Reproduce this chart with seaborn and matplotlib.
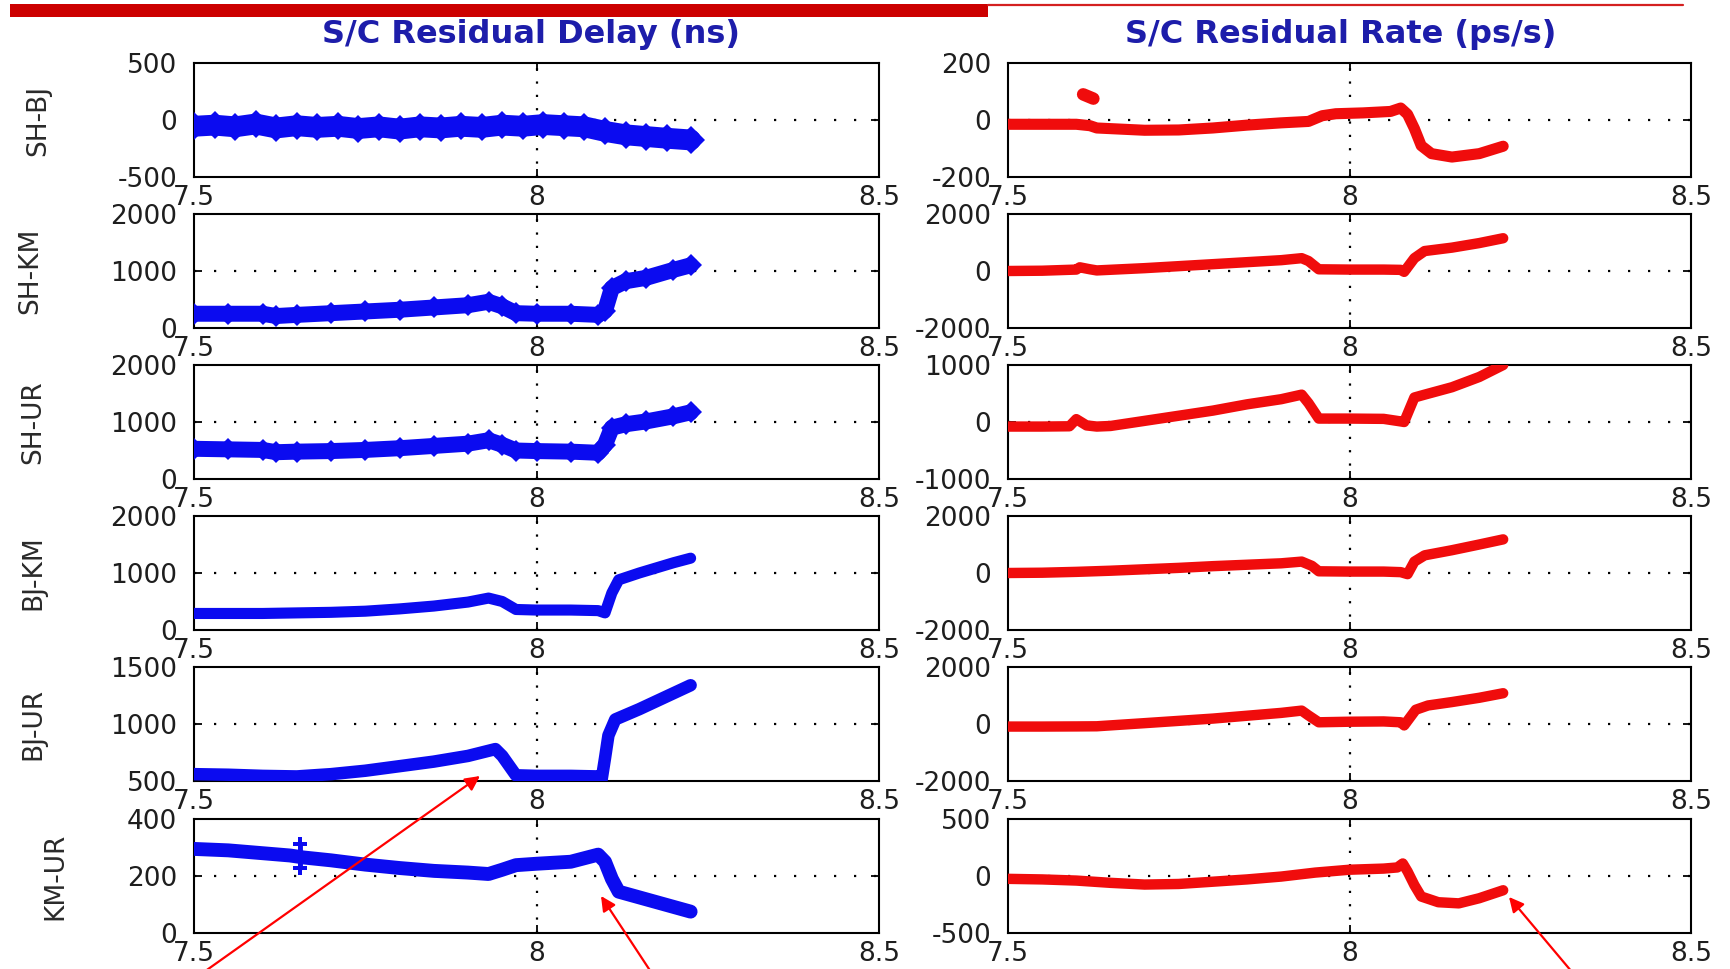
import matplotlib
matplotlib.use("Agg")
import matplotlib.pyplot as plt
import seaborn as sns
import pandas as pd
from matplotlib.patches import Rectangle, FancyArrowPatch
from matplotlib.lines import Line2D

# ---------------------------------------------------------------- labels
baselines = ["SH-BJ", "SH-KM", "SH-UR", "BJ-KM", "BJ-UR", "KM-UR"]
col_titles = ["S/C Residual Delay (ns)", "S/C Residual Rate (ps/s)"]
x_ticks = [7.5, 8.0, 8.5]
x_tick_labels = ["7.5", "8", "8.5"]

# y ranges (low, high) per baseline; middle tick is their mean
delay_ylims = [(-500, 500), (0, 2000), (0, 2000), (0, 2000), (500, 1500), (0, 400)]
rate_ylims = [(-200, 200), (-2000, 2000), (-1000, 1000), (-2000, 2000), (-2000, 2000), (-500, 500)]

# ---------------------------------------------------------------- residual delay (ns), time in hours
t_delay_shbj = [7.50, 7.53, 7.56, 7.59, 7.62, 7.65, 7.68, 7.71, 7.74, 7.77, 7.80, 7.83, 7.86, 7.89,
                7.92, 7.95, 7.98, 8.01, 8.04, 8.07, 8.10, 8.13, 8.16, 8.19, 8.225]
delay_shbj = [-55, -45, -60, -35, -70, -50, -65, -55, -75, -60, -80, -60, -70, -55,
              -65, -45, -55, -40, -50, -60, -100, -130, -145, -160, -175]

t_delay_shkm = [7.50, 7.55, 7.60, 7.62, 7.65, 7.70, 7.75, 7.80, 7.85, 7.90, 7.93, 7.95, 7.97,
                8.00, 8.05, 8.09, 8.10, 8.11, 8.13, 8.16, 8.20, 8.225]
delay_shkm = [250, 250, 250, 210, 230, 260, 290, 320, 360, 400, 460, 380, 260,
              250, 250, 230, 300, 700, 820, 880, 1020, 1100]

t_delay_shur = [7.50, 7.55, 7.60, 7.62, 7.65, 7.70, 7.75, 7.80, 7.85, 7.90, 7.93, 7.95, 7.97,
                8.00, 8.05, 8.09, 8.10, 8.11, 8.13, 8.16, 8.20, 8.225]
delay_shur = [530, 520, 510, 470, 480, 490, 510, 540, 580, 620, 680, 600, 500,
              490, 480, 460, 600, 900, 960, 1010, 1100, 1170]

t_delay_bjkm = [7.50, 7.60, 7.70, 7.75, 7.80, 7.85, 7.90, 7.93, 7.95, 7.97, 8.00, 8.05,
                8.09, 8.10, 8.11, 8.12, 8.15, 8.20, 8.225]
delay_bjkm = [290, 290, 310, 330, 370, 420, 490, 560, 500, 360, 350, 350,
              340, 300, 650, 880, 1000, 1180, 1260]

t_delay_bjur = [7.50, 7.55, 7.60, 7.65, 7.70, 7.75, 7.80, 7.85, 7.90, 7.94, 7.95, 7.97, 8.00,
                8.05, 8.09, 8.095, 8.10, 8.105, 8.115, 8.15, 8.20, 8.225]
delay_bjur = [560, 555, 545, 540, 560, 590, 630, 670, 720, 780, 720, 550, 545,
              545, 540, 510, 700, 900, 1040, 1130, 1270, 1340]

t_delay_kmur = [7.50, 7.55, 7.60, 7.64, 7.66, 7.70, 7.75, 7.80, 7.85, 7.90, 7.93, 7.95, 7.97,
                8.00, 8.05, 8.09, 8.10, 8.11, 8.12, 8.15, 8.18, 8.225]
delay_kmur = [295, 290, 280, 272, 265, 255, 240, 228, 218, 212, 207, 222, 238,
              243, 250, 275, 250, 190, 145, 125, 105, 75]
t_delay_kmur_outlier = [7.655, 7.655]
delay_kmur_outlier = [312, 228]

# ---------------------------------------------------------------- residual rate (ps/s)
t_rate_shbj = [7.50, 7.55, 7.60, 7.62, 7.63, 7.70, 7.75, 7.80, 7.85, 7.90, 7.94, 7.96, 7.98,
               8.02, 8.06, 8.075, 8.085, 8.095, 8.105, 8.12, 8.15, 8.19, 8.225]
rate_shbj = [-15, -15, -15, -20, -28, -36, -35, -28, -18, -10, -5, 15, 22,
             25, 30, 42, 20, -30, -90, -118, -130, -118, -92]
t_rate_shbj_outlier = [7.610, 7.625]
rate_shbj_outlier = [90, 75]

t_rate_shkm = [7.50, 7.55, 7.60, 7.605, 7.62, 7.63, 7.70, 7.75, 7.80, 7.85, 7.90, 7.93, 7.94,
               7.955, 8.00, 8.05, 8.075, 8.08, 8.095, 8.11, 8.15, 8.19, 8.225]
rate_shkm = [0, 10, 50, 130, 60, 20, 100, 170, 240, 310, 380, 450, 350,
             60, 50, 50, 40, -30, 450, 700, 820, 980, 1150]

t_rate_shur = [7.50, 7.55, 7.59, 7.60, 7.615, 7.63, 7.65, 7.70, 7.75, 7.80, 7.85, 7.90, 7.93,
               7.94, 7.955, 8.00, 8.05, 8.075, 8.08, 8.095, 8.11, 8.15, 8.19, 8.225]
rate_shur = [-80, -80, -75, 50, -60, -80, -70, 20, 110, 200, 310, 400, 480,
             330, 60, 60, 55, 10, 0, 430, 480, 610, 790, 1000]

t_rate_bjkm = [7.50, 7.55, 7.60, 7.65, 7.70, 7.75, 7.80, 7.85, 7.90, 7.93, 7.945, 7.955, 8.00,
               8.05, 8.075, 8.085, 8.095, 8.11, 8.15, 8.19, 8.225]
rate_bjkm = [0, 10, 40, 80, 130, 180, 240, 290, 340, 400, 250, 60, 50,
             50, 30, -40, 400, 620, 800, 1000, 1180]

t_rate_bjur = [7.50, 7.55, 7.60, 7.63, 7.70, 7.75, 7.80, 7.85, 7.90, 7.93, 7.94, 7.955, 8.00,
               8.05, 8.075, 8.08, 8.097, 8.115, 8.15, 8.19, 8.225]
rate_bjur = [-90, -90, -85, -80, 30, 110, 190, 290, 390, 470, 300, 60, 80,
             90, 60, -50, 500, 650, 770, 920, 1080]

t_rate_kmur = [7.50, 7.55, 7.60, 7.65, 7.70, 7.75, 7.80, 7.85, 7.90, 7.95, 8.00, 8.05, 8.07,
               8.078, 8.085, 8.095, 8.105, 8.13, 8.16, 8.19, 8.225]
rate_kmur = [-25, -30, -40, -60, -75, -70, -50, -30, -5, 30, 55, 65, 75,
             110, 40, -80, -180, -230, -240, -195, -125]

delay_series = [(t_delay_shbj, delay_shbj), (t_delay_shkm, delay_shkm), (t_delay_shur, delay_shur),
                (t_delay_bjkm, delay_bjkm), (t_delay_bjur, delay_bjur), (t_delay_kmur, delay_kmur)]
rate_series = [(t_rate_shbj, rate_shbj), (t_rate_shkm, rate_shkm), (t_rate_shur, rate_shur),
               (t_rate_bjkm, rate_bjkm), (t_rate_bjur, rate_bjur), (t_rate_kmur, rate_kmur)]

# ---------------------------------------------------------------- styling
BLUE = "#0b0bf0"
RED = "#f00c0c"
TITLE_BLUE = "#1d1daa"
TEXT = "#1e1e1e"

delay_style = [dict(lw=15, marker="D", ms=14), dict(lw=11.5, marker="D", ms=11),
               dict(lw=11.5, marker="D", ms=11), dict(lw=8), dict(lw=9), dict(lw=10)]
rate_style = [dict(lw=8), dict(lw=7.5), dict(lw=7.5), dict(lw=7.5), dict(lw=7.5), dict(lw=7.5)]

sns.set_theme(style="ticks")
plt.rcParams["font.family"] = ["DejaVu Sans"]

W, H = 1730, 969
fig = plt.figure(figsize=(W / 100, H / 100), dpi=100)
fig.patch.set_facecolor("white")

row_tops = [63, 214, 365, 516, 667, 819]
row_h = 114
col_x = [(194, 879), (1008, 1691)]
ylabel_centers = [38, 30, 33, 33, 33, 55]


def style_axes(ax, ylim):
    lo, hi = ylim
    mid = (lo + hi) / 2
    ax.set_xlim(7.5, 8.5)
    ax.set_ylim(lo, hi)
    ax.set_xticks(x_ticks)
    ax.set_xticklabels(x_tick_labels)
    ax.set_yticks([lo, mid, hi])
    ax.set_yticklabels([f"{int(v)}" for v in (lo, mid, hi)])
    ax.axvline(8.0, color="black", lw=1.6, ls=(0, (1, 5)), zorder=1)
    ax.axhline(mid, color="black", lw=1.6, ls=(0, (1, 8)), zorder=1)
    ax.tick_params(axis="both", direction="in", length=6, width=1.3,
                   top=True, right=True, labelsize=19, labelcolor=TEXT, color="black")
    ax.tick_params(axis="y", pad=12)
    ax.tick_params(axis="x", pad=6)
    for s in ax.spines.values():
        s.set_linewidth(1.5)
        s.set_color("black")
    ax.set_xlabel("")
    ax.set_facecolor("white")


def set_row_label(ax, r, x0, x1):
    ax.set_ylabel(baselines[r], fontsize=19, color="#2a2a2a", va="center")
    ax.yaxis.set_label_coords((ylabel_centers[r] - x0) / (x1 - x0), 0.5)


for c, (series, ylims, styles, color) in enumerate(
        [(delay_series, delay_ylims, delay_style, BLUE),
         (rate_series, rate_ylims, rate_style, RED)]):
    x0, x1 = col_x[c]
    for r in range(6):
        top = row_tops[r]
        ax = fig.add_axes([x0 / W, 1 - (top + row_h) / H, (x1 - x0) / W, row_h / H])
        t, v = series[r]
        df = pd.DataFrame({"time": t, "value": v})
        st = dict(styles[r])
        marker = st.pop("marker", None)
        ms = st.pop("ms", None)
        kw = dict(marker=marker, ms=ms, mec=color, mew=0) if marker else {}
        sns.lineplot(data=df, x="time", y="value", ax=ax, sort=False, estimator=None,
                     color=color, lw=st["lw"], solid_capstyle="round",
                     solid_joinstyle="round", zorder=3, **kw)
        if c == 0 and r == 5:
            out = pd.DataFrame({"time": t_delay_kmur_outlier, "value": delay_kmur_outlier})
            sns.lineplot(data=out, x="time", y="value", ax=ax, sort=False, estimator=None,
                         color=color, lw=3.5, marker="P", ms=10, mew=0, zorder=3)
        if c == 1 and r == 0:
            out = pd.DataFrame({"time": t_rate_shbj_outlier, "value": rate_shbj_outlier})
            sns.lineplot(data=out, x="time", y="value", ax=ax, sort=False, estimator=None,
                         color=color, lw=9, solid_capstyle="round", zorder=3)
        style_axes(ax, ylims[r])
        ax.set_ylabel("")
        if c == 0:
            set_row_label(ax, r, x0, x1)

# column titles
fig.text(531 / W, 1 - 35 / H, col_titles[0], ha="center", va="center",
         fontsize=23, fontweight="bold", color=TITLE_BLUE)
fig.text(1341 / W, 1 - 35 / H, col_titles[1], ha="center", va="center",
         fontsize=23, fontweight="bold", color=TITLE_BLUE)

# header band
fig.add_artist(Rectangle((10 / W, 1 - 17 / H), (988 - 10) / W, 13 / H,
                         transform=fig.transFigure, color="#cc0000", lw=0))
fig.add_artist(Line2D([988 / W, 1683 / W], [1 - 5 / H, 1 - 5 / H],
                      transform=fig.transFigure, color="#d42020", lw=1.6))

# annotation arrows
for (xa, ya), (xb, yb) in [((204, 972), (480, 776)),
                           ((651, 972), (601, 896)),
                           ((1572, 972), (1509, 897))]:
    fig.add_artist(FancyArrowPatch((xa / W, 1 - ya / H), (xb / W, 1 - yb / H),
                                   transform=fig.transFigure, arrowstyle="-|>",
                                   mutation_scale=22, color="#ff0000", lw=1.6,
                                   shrinkA=0, shrinkB=0))

fig.savefig("out.png", dpi=100, facecolor="white")
